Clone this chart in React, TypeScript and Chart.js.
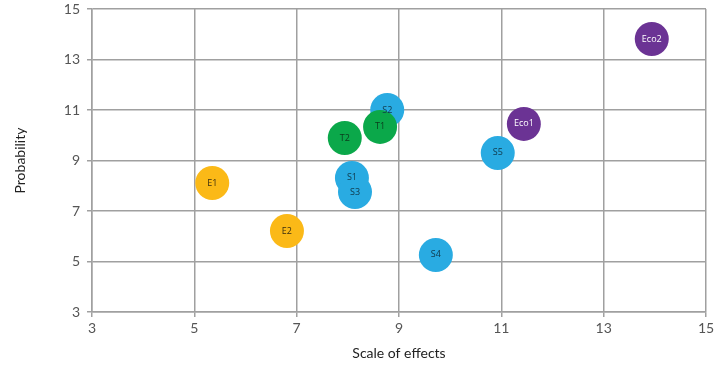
import React, { useEffect, useRef } from "react";
import { Chart, registerables } from "chart.js";

Chart.register(...registerables);

const eLabels = ["E1", "E2"];
const eX = [5.35, 6.81];
const eY = [8.11, 6.21];

const sLabels = ["S1", "S2", "S3", "S4", "S5"];
const sX = [8.08, 8.77, 8.14, 9.72, 10.93];
const sY = [8.31, 11.0, 7.75, 5.26, 9.3];

const tLabels = ["T2", "T1"];
const tX = [7.94, 8.63];
const tY = [9.89, 10.33];

const ecoLabels = ["Eco1", "Eco2"];
const ecoX = [11.44, 13.94];
const ecoY = [10.45, 13.81];

const xTicks = [3, 5, 7, 9, 11, 13, 15];
const yTicks = [3, 5, 7, 9, 11, 13, 15];

const FONT = "Lato, 'Open Sans', sans-serif";

const mk = (xs: number[], ys: number[]) => xs.map((x, i) => ({ x, y: ys[i] }));

const labelPlugin = {
  id: "pointLabels",
  afterDatasetsDraw(chart: any) {
    const ctx = chart.ctx;
    chart.data.datasets.forEach((ds: any, di: number) => {
      const meta = chart.getDatasetMeta(di);
      meta.data.forEach((el: any, i: number) => {
        ctx.save();
        ctx.font = `9px 'Open Sans', sans-serif`;
        ctx.fillStyle = ds.labelColor;
        ctx.textAlign = "center";
        ctx.textBaseline = "middle";
        ctx.fillText(ds.pointLabels[i], el.x, el.y);
        ctx.restore();
      });
    });
  },
};

export default function App() {
  const ref = useRef<HTMLCanvasElement | null>(null);
  useEffect(() => {
    if (!ref.current) return;
    const chart = new Chart(ref.current, {
      type: "scatter",
      data: {
        datasets: [
          { data: mk(eX, eY), backgroundColor: "#FBB917", pointLabels: eLabels, labelColor: "#3a2e10", order: 4 },
          { data: mk(sX, sY), backgroundColor: "#29ABE2", pointLabels: sLabels, labelColor: "#10384a", order: 3 },
          { data: mk(tX, tY), backgroundColor: "#0BA84A", pointLabels: tLabels, labelColor: "#0c3a1c", order: 2 },
          { data: mk(ecoX, ecoY), backgroundColor: "#6B3394", pointLabels: ecoLabels, labelColor: "#ffffff", order: 1 },
        ].map((d: any) => ({
          ...d,
          pointRadius: 17,
          pointHoverRadius: 17,
          borderWidth: 0,
          borderColor: d.backgroundColor,
        })) as any,
      },
      options: {
        animation: false,
        responsive: true,
        maintainAspectRatio: false,
        layout: { autoPadding: false, padding: { top: 9, right: 21, left: 0, bottom: 0 } },
        plugins: { legend: { display: false }, tooltip: { enabled: false } },
        scales: {
          x: {
            type: "linear",
            min: 3,
            max: 15,
            afterBuildTicks: (s: any) => {
              s.ticks = xTicks.map((v) => ({ value: v }));
            },
            afterFit: (s: any) => {
              s.height = 62;
              s.paddingLeft = 0;
              s.paddingRight = 0;
            },
            ticks: { color: "#555", font: { family: FONT, size: 14 }, padding: 3 },
            grid: { color: "#a0a0a0", lineWidth: 1.5, tickLength: 5 },
            border: { color: "#a0a0a0", width: 1.5 },
            title: {
              display: true,
              text: "Scale of effects",
              color: "#222",
              font: { family: FONT, size: 14 },
              padding: { top: 4, bottom: 12 },
            },
          },
          y: {
            type: "linear",
            min: 3,
            max: 15,
            afterBuildTicks: (s: any) => {
              s.ticks = yTicks.map((v) => ({ value: v }));
            },
            afterFit: (s: any) => {
              s.width = 92;
              s.paddingTop = 0;
              s.paddingBottom = 0;
            },
            ticks: { color: "#555", font: { family: FONT, size: 14 }, padding: 7 },
            grid: { color: "#a0a0a0", lineWidth: 1.5, tickLength: 5 },
            border: { color: "#a0a0a0", width: 1.5 },
            title: {
              display: true,
              text: "Probability",
              color: "#222",
              font: { family: FONT, size: 14 },
              padding: { top: 12, bottom: 0 },
            },
          },
        },
      } as any,
      plugins: [labelPlugin],
    });
    return () => chart.destroy();
  }, []);
  return (
    <div style={{ position: "fixed", left: 0, top: 0, width: 727, height: 374, background: "#fff" }}>
      <canvas ref={ref} />
    </div>
  );
}
